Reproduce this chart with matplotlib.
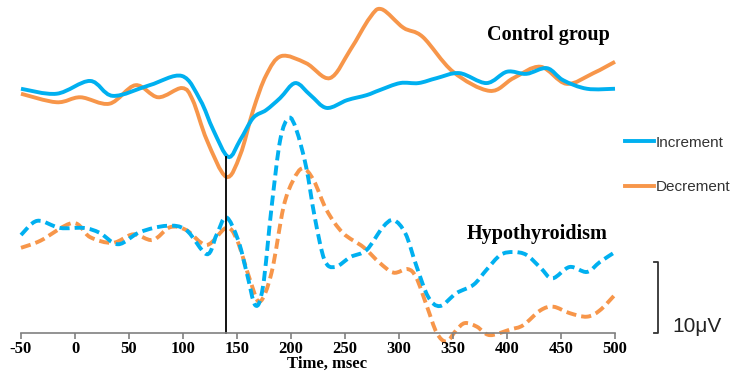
import numpy as np
import matplotlib.pyplot as plt
from matplotlib.path import Path
from matplotlib.patches import PathPatch
from matplotlib.lines import Line2D

plt.rcParams['axes.unicode_minus'] = False

# ERP curves, amplitude in microvolts above the time axis.

ctrl_inc_t = [-50, -17, 14, 35, 69, 99, 116, 128, 142, 153, 165, 177, 190, 204, 218, 233,
              252, 270, 282, 301, 318, 335, 356, 381, 400, 418, 437, 452, 474, 500]
ctrl_inc_v = [34.4, 33.7, 35.5, 33.4, 34.9, 36.2, 32.8, 28.6, 24.8, 27.2, 30.3, 31.4, 33.1, 35.2, 33.5, 31.7,
              32.8, 33.5, 34.2, 35.2, 35.2, 35.9, 36.6, 35.2, 36.8, 36.5, 37.3, 35.6, 34.4, 34.4]

ctrl_dec_t = [-50, -17, 5, 32, 56, 77, 99, 109, 122, 140, 153, 165, 177, 191, 214, 236,
              255, 273, 284, 304, 322, 350, 384, 406, 431, 455, 480, 500]
ctrl_dec_v = [33.7, 32.5, 33.2, 32.3, 34.9, 33.2, 34.5, 32.8, 27.2, 22.0, 25.1, 31.4, 36.3, 39.0, 38.0, 35.9,
              39.9, 44.4, 45.6, 43.0, 41.7, 36.8, 34.1, 35.9, 37.5, 35.1, 36.6, 38.2]

hypo_inc_t = [-50, -35, -14, 8, 23, 40, 60, 85, 103, 122, 131, 140, 151, 159, 167, 174, 182, 190,
              198, 205, 214, 222, 231, 241, 255, 270, 285, 295, 306, 316, 327, 338, 353, 369,
              381, 394, 406, 418, 431, 442, 458, 474, 486, 500]
hypo_inc_v = [13.8, 15.8, 14.8, 14.8, 14.1, 12.5, 14.2, 15.1, 14.5, 11.1, 13.8, 16.3, 13.1, 8.5, 3.9, 6.5, 17.7, 27.2,
              30.3, 28.6, 23.4, 16.3, 10.3, 9.3, 10.7, 11.7, 14.9, 15.9, 14.0, 9.5, 5.1, 3.8, 5.6, 6.8,
              8.9, 11.0, 11.4, 11.0, 9.2, 7.7, 9.3, 8.6, 10.0, 11.4]

hypo_dec_t = [-50, -32, -2, 14, 35, 54, 72, 88, 103, 122, 140, 150, 162, 171, 182, 193, 202, 211,
              221, 233, 248, 267, 282, 295, 308, 316, 326, 335, 344, 353, 361, 372, 384, 403,
              415, 431, 443, 458, 474, 486, 500]
hypo_dec_v = [12.0, 13.0, 15.5, 13.5, 12.7, 13.9, 13.1, 14.9, 14.5, 12.4, 14.8, 13.1, 7.5, 4.4, 8.5, 17.7, 21.5, 23.2,
              21.5, 17.3, 14.1, 12.1, 9.9, 8.5, 9.0, 7.8, 3.7, 0.0, -1.2, 0.4, 1.4, 0.9, -0.3, 0.5,
              1.1, 3.2, 3.7, 2.8, 2.3, 3.2, 5.4]

stim_time = 140
xticks = [-50, 0, 50, 100, 150, 200, 250, 300, 350, 400, 450, 500]

blue = '#00B0F0'
orange = '#F7964A'


# smooth line like excel: bezier segments through every point.

def smooth_path(t, v):
    p = np.column_stack([t, v]).astype(float)
    verts = [p[0]]
    codes = [Path.MOVETO]
    for i in range(len(p) - 1):
        p0 = p[max(i - 1, 0)]
        p3 = p[min(i + 2, len(p) - 1)]
        c1 = p[i] + (p[i + 1] - p0) / 6.0
        c2 = p[i + 1] - (p3 - p[i]) / 6.0
        verts += [c1, c2, p[i + 1]]
        codes += [Path.CURVE4] * 3
    return Path(verts, codes)


def draw(ax, t, v, color, ls):
    patch = PathPatch(smooth_path(t, v), fill=False, edgecolor=color, lw=2.8,
                      linestyle=ls, capstyle='butt', clip_on=False)
    ax.add_patch(patch)


fig = plt.figure(figsize=(7.33, 3.71), dpi=100)
ax = fig.add_axes([21 / 733, 0, 594 / 733, 1])

dash = (0, (2.6, 1.3))
draw(ax, hypo_dec_t, hypo_dec_v, orange, dash)
draw(ax, hypo_inc_t, hypo_inc_v, blue, dash)
draw(ax, ctrl_dec_t, ctrl_dec_v, orange, '-')
draw(ax, ctrl_inc_t, ctrl_inc_v, blue, '-')

# stimulus marker from the control minimum down to the axis
ax.plot([stim_time, stim_time], [min(ctrl_inc_v), 0], color='black', lw=1.3)

ax.set_xlim(-50, 500)
ax.set_ylim(-5.35, 46.9)

for s in ['top', 'right', 'left']:
    ax.spines[s].set_visible(False)
ax.spines['bottom'].set_position(('data', 0))
ax.spines['bottom'].set_color('#808080')
ax.spines['bottom'].set_linewidth(1.2)
ax.set_yticks([])
ax.set_xticks(xticks)
ax.tick_params(axis='x', direction='out', length=4, width=1.2, color='#808080', pad=2)
for lab in ax.get_xticklabels():
    lab.set_fontfamily('Liberation Serif')
    lab.set_fontweight('bold')
    lab.set_fontsize(12)

font = {'family': 'Liberation Serif', 'weight': 'bold', 'size': 12}
ax.text(233, -4.9, 'Time, msec', fontdict=font, ha='center', va='baseline')
font['size'] = 14.5
ax.text(438, 42.0, 'Control group', fontdict=font, ha='center', va='center')
ax.text(428, 13.9, 'Hypothyroidism', fontdict=font, ha='center', va='center')

# scale bar, 10 microvolts
sx = 540
ax.plot([sx - 4, sx, sx, sx - 4], [10, 10, 0, 0], color='#333333', lw=1.3, clip_on=False)
ax.text(sx + 13, 0.9, '10\u03bcV', fontsize=15, family='Liberation Sans',
        color='#222222', ha='left', va='center')

handles = [Line2D([], [], color=blue, lw=2.8), Line2D([], [], color=orange, lw=2.8)]
fig.legend(handles, ['Increment', 'Decrement'], loc='center left',
           bbox_to_anchor=(611 / 733, 1 - 165 / 371), frameon=False,
           handlelength=1.9, handletextpad=0.15, labelspacing=2.0,
           prop={'family': 'Liberation Sans', 'size': 11}, labelcolor='#333333')

fig.savefig('out.png', dpi=100)
